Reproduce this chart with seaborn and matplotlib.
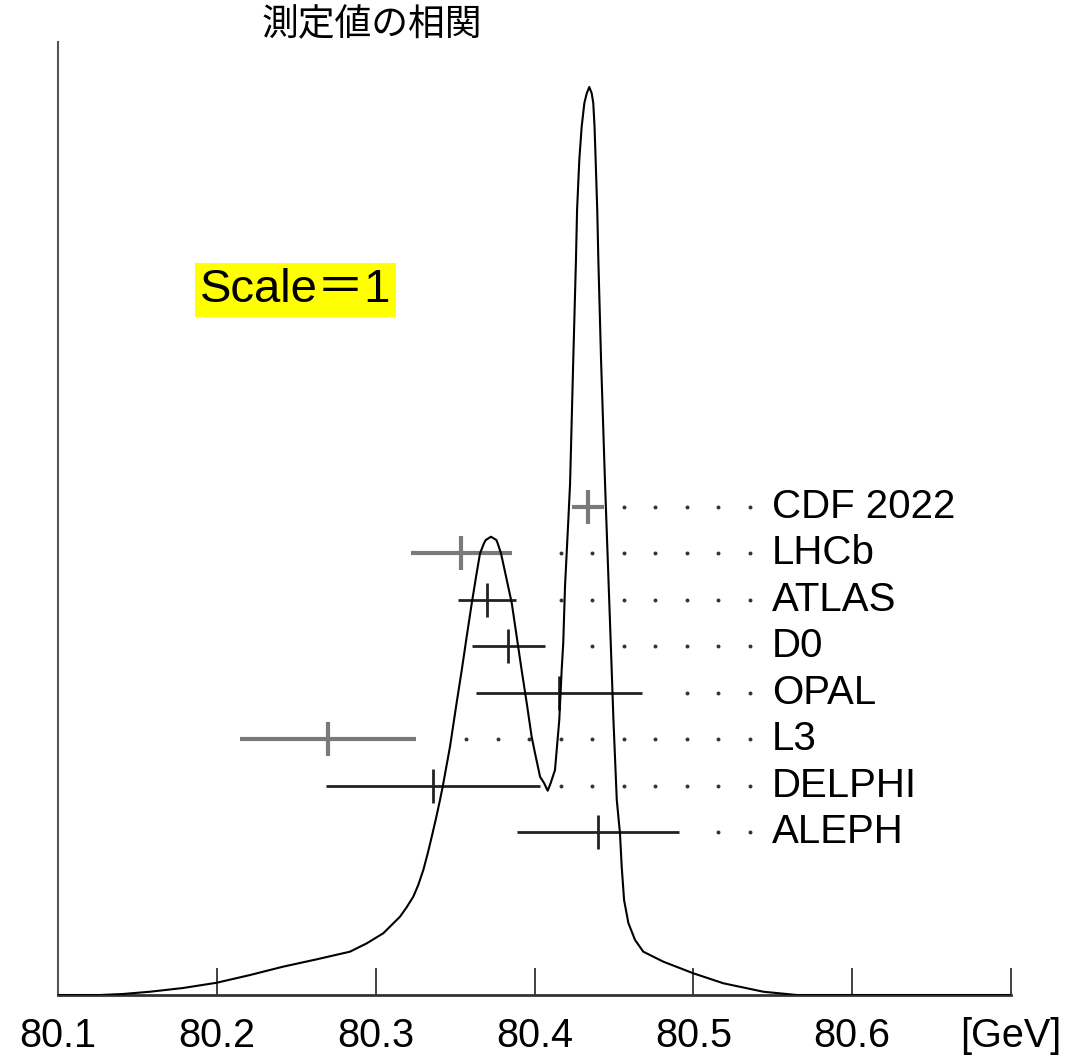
import matplotlib
matplotlib.use("Agg")
import matplotlib.pyplot as plt
import numpy as np
import pandas as pd
import seaborn as sns

# ---- data ----
curve_x = [80.1000, 80.1264, 80.1409, 80.1579, 80.1787, 80.1999, 80.2209, 80.2417, 80.2629, 80.2838,
           80.2944, 80.3048, 80.3153, 80.3195, 80.3237, 80.3268, 80.3300, 80.3328, 80.3353, 80.3380,
           80.3405, 80.3422, 80.3468, 80.3506, 80.3542, 80.3573, 80.3605, 80.3632, 80.3657, 80.3682,
           80.3693, 80.3726, 80.3760, 80.3768, 80.3789, 80.3821, 80.3857, 80.3888, 80.3919, 80.3951,
           80.3982, 80.4003, 80.4035, 80.4060, 80.4083, 80.4102, 80.4129, 80.4156, 80.4171, 80.4181,
           80.4192, 80.4213, 80.4224, 80.4244, 80.4261, 80.4268, 80.4282, 80.4297, 80.4314, 80.4329,
           80.4345, 80.4360, 80.4370, 80.4378, 80.4385, 80.4395, 80.4402, 80.4419, 80.4444, 80.4480,
           80.4497, 80.4518, 80.4538, 80.4549, 80.4564, 80.4591, 80.4633, 80.4685, 80.4811, 80.5000,
           80.5189, 80.5441, 80.5651, 80.7000]
curve_y = [0.0000, 0.0000, 0.0011, 0.0036, 0.0077, 0.0135, 0.0220, 0.0312, 0.0393, 0.0477,
           0.0569, 0.0680, 0.0862, 0.0966, 0.1083, 0.1211, 0.1377, 0.1561, 0.1743, 0.1946,
           0.2148, 0.2294, 0.2735, 0.3175, 0.3579, 0.3946, 0.4314, 0.4607, 0.4864, 0.4975,
           0.5011, 0.5047, 0.5011, 0.4975, 0.4864, 0.4607, 0.4314, 0.3946, 0.3579, 0.3216,
           0.2845, 0.2665, 0.2404, 0.2335, 0.2250, 0.2335, 0.2478, 0.3029, 0.3579, 0.3877,
           0.4497, 0.5231, 0.5635, 0.6993, 0.8095, 0.8645, 0.9196, 0.9563, 0.9824, 0.9931,
           1.0000, 0.9931, 0.9824, 0.9563, 0.9196, 0.8645, 0.8095, 0.6993, 0.5639, 0.3877,
           0.3029, 0.2148, 0.1784, 0.1413, 0.1046, 0.0793, 0.0606, 0.0477, 0.0367, 0.0239,
           0.0129, 0.0036, 0.0000, 0.0000]

experiments = ["CDF 2022", "LHCb", "ATLAS", "D0", "OPAL", "L3", "DELPHI", "ALEPH"]
mass_values = [80.4335, 80.354, 80.370, 80.3835, 80.4153, 80.270, 80.336, 80.440]
mass_errors = [0.010, 0.032, 0.0184, 0.0231, 0.0524, 0.0555, 0.0674, 0.051]

tick_values = [80.1, 80.2, 80.3, 80.4, 80.5, 80.6, 80.7]
tick_labels = ["80.1", "80.2", "80.3", "80.4", "80.5", "80.6", "[GeV]"]

title_text = "測定値の相関"
scale_text = "Scale＝1"

# ---- styles ----
bar_colors = ["#7a7a7a", "#7a7a7a", "#222222", "#222222", "#222222", "#7a7a7a", "#222222", "#222222"]
bar_widths = [3.0, 3.0, 2.0, 2.0, 2.0, 3.0, 2.0, 2.0]

sns.set_theme(style="white")
plt.rcParams["font.family"] = ["Liberation Sans", "Noto Sans CJK JP", "DejaVu Sans"]

W, H = 1089, 1056
fig = plt.figure(figsize=(W / 100, H / 100), dpi=100)
ax = fig.add_axes([58 / W, 1 - 995 / H, (1011 - 58) / W, (995 - 42) / H])

ax.set_xlim(80.1, 80.7)
ax.set_ylim(0, 953 / 908)

# curve
curve_df = pd.DataFrame({"mass": curve_x, "density": curve_y})
sns.lineplot(data=curve_df, x="mass", y="density", ax=ax, color="black",
             linewidth=1.5, sort=False, zorder=3)

# measurement rows
row_top = 0.5374
row_step = 0.05113
dot_last = 80.5355
dot_step = 0.01983
label_x = 80.5495

dots_x, dots_y = [], []
for i, (name, v, e) in enumerate(zip(experiments, mass_values, mass_errors)):
    y = row_top - i * row_step
    ax.errorbar([v], [y], xerr=[e], fmt="|", color=bar_colors[i],
                elinewidth=bar_widths[i], markersize=24, markeredgewidth=bar_widths[i],
                capsize=0, zorder=2)
    k = 0
    while True:
        dx = dot_last - k * dot_step
        if dx <= v + e + 0.012:
            break
        dots_x.append(dx)
        dots_y.append(y)
        k += 1
    ax.text(label_x, y, name, ha="left", va="center", fontsize=29, color="black")

dots_df = pd.DataFrame({"x": dots_x, "y": dots_y})
sns.scatterplot(data=dots_df, x="x", y="y", ax=ax, s=8, color="#333333",
                linewidth=0, zorder=2)

# axes styling
ax.set_xticks(tick_values, tick_labels)
ax.set_yticks([])
ax.set_xlabel("")
ax.set_ylabel("")
ax.tick_params(axis="x", direction="in", length=19.5, width=1.3, color="#333333",
               labelsize=28.5, pad=16, labelcolor="black", bottom=True)
for s in ["top", "right"]:
    ax.spines[s].set_visible(False)
ax.spines["left"].set_color("#555555")
ax.spines["left"].set_linewidth(1.5)
ax.spines["bottom"].set_color("#333333")
ax.spines["bottom"].set_linewidth(2.0)

# annotations
fig.text(372 / W, 1 - 25 / H, title_text, ha="center", va="center", fontsize=26.5,
         family=["Noto Sans CJK JP"], color="black")
ax.text(80.1894, (995 - 302) / 908, scale_text, ha="left", va="baseline", fontsize=34,
        color="black",
        bbox=dict(boxstyle="square,pad=0.1", facecolor="#ffff00", edgecolor="none"))

fig.savefig("out.png", dpi=100)
